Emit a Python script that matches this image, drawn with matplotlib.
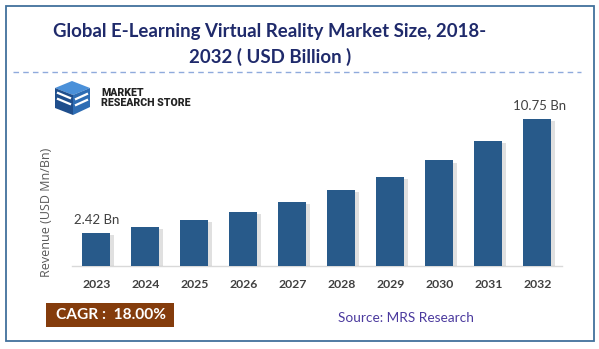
import matplotlib
matplotlib.use("Agg")
import matplotlib.pyplot as plt
import matplotlib.patches as mpatches
import matplotlib.patheffects as pe

years = ["2023", "2024", "2025", "2026", "2027", "2028", "2029", "2030", "2031", "2032"]
revenue = [2.42, 2.86, 3.38, 3.97, 4.70, 5.54, 6.53, 7.72, 9.12, 10.75]
labels = {0: "2.42 Bn", 9: "10.75 Bn"}

title_text = "Global E-Learning Virtual Reality Market Size, 2018-\n2032 ( USD Billion )"
ylabel_text = "Revenue (USD Mn/Bn)"
cagr_text = "CAGR :  18.00%"
source_text = "Source: MRS Research"

W, H = 599, 349
fig = plt.figure(figsize=(W / 100, H / 100), dpi=100)
fig.patch.set_facecolor("white")

# overlay for decorations in pixel coordinates
ov = fig.add_axes([0, 0, 1, 1])
ov.set_xlim(0, W)
ov.set_ylim(H, 0)
ov.axis("off")

ov.add_patch(mpatches.Rectangle((5.5, 5.5), 588, 335.5, fill=False,
                                edgecolor="#41719C", linewidth=1.3))
ov.plot([13, 581], [71.5, 71.5], color="#8FAADC", linewidth=1.0,
        dashes=(4, 3))
ov.text(270, 44.5, title_text, ha="center", va="center", fontsize=13.4,
        fontweight="bold", color="#1F2A6B", family="Lato", linespacing=1.5)

# logo
blue = "#2E6DB4"
dark = "#1F4E8C"
ov.add_patch(mpatches.Polygon([(55, 88), (72, 81), (90, 88), (73, 95)],
                              closed=True, facecolor="#4A90D9"))
ov.add_patch(mpatches.Polygon([(55, 88), (73, 95), (73, 115), (55, 108)],
                              closed=True, facecolor=dark))
ov.add_patch(mpatches.Polygon([(73, 95), (90, 88), (90, 107), (73, 115)],
                              closed=True, facecolor=blue))
for dy in (0, 6):
    ov.plot([76, 87], [99 + dy, 94 + dy], color="white", linewidth=1.6)
    ov.plot([58, 70], [93 + dy, 98 + dy], color="white", linewidth=1.6)
ov.text(101, 93.5, "MARKET", ha="left", va="center", fontsize=7.6,
        fontweight="heavy", color="#222222", family="Roboto")
ov.text(101, 102.5, "RESEARCH STORE", ha="left", va="center", fontsize=7.6,
        fontweight="heavy", color="#222222", family="Roboto")

# CAGR box
ov.add_patch(mpatches.Rectangle((46, 303), 128, 23.5, facecolor="#843C0C",
                                edgecolor="none"))
ov.text(111, 315, cagr_text, ha="center", va="center", fontsize=11.2,
        fontweight="bold", color="white", family="Lato")
ov.text(406, 317.5, source_text, ha="center", va="center", fontsize=9.8,
        color="#4B3A9E", family="Lato")
ov.text(47, 212, ylabel_text, ha="center", va="center", rotation=90,
        fontsize=9, color="#595959", family="Open Sans")

# main chart
ax = fig.add_axes([71.7 / W, (H - 266) / H, 490 / W, 166.8 / H])
ax.set_facecolor("none")
x = list(range(len(years)))
bars = ax.bar(x, revenue, width=0.57, color="#285A8A", zorder=3)
for b in bars:
    b.set_path_effects([pe.SimplePatchShadow(offset=(2.5, -1.5), shadow_rgbFace="#9a9a9a", alpha=0.3),
                        pe.Normal()])
ax.set_xlim(-0.5, len(years) - 0.5)
ax.set_ylim(0, 12.2)
ax.set_xticks(x)
ax.set_xticklabels(years, fontsize=8.8, fontweight="bold", color="#404040", family="Lato")
ax.tick_params(axis="x", length=0, pad=9)
ax.set_yticks([])
for s in ("top", "right", "left"):
    ax.spines[s].set_visible(False)
ax.spines["bottom"].set_color("#D9D9D9")
ax.spines["bottom"].set_linewidth(1.0)
for i, t in labels.items():
    ax.annotate(t, (x[i], revenue[i]), xytext=(2 if i else 0, 5), textcoords="offset points",
                ha="center", va="bottom", fontsize=9.5, color="#404040", family="Lato")

fig.savefig("out.png", dpi=100, facecolor="white")
